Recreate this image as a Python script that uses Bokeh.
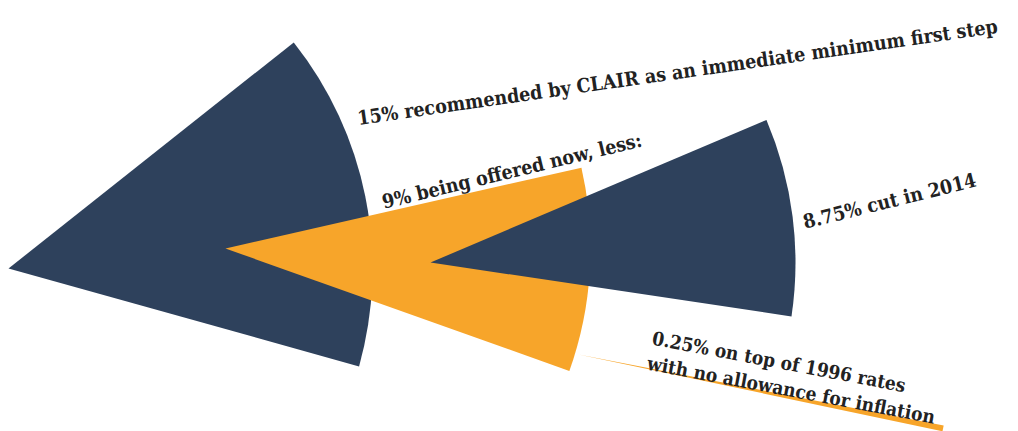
import math
from bokeh.plotting import figure
from bokeh.models import Range1d, Label
from bokeh.embed import file_html
from bokeh.resources import INLINE

# ---- data ----
values = [15, 9, 8.75, 0.25]
labels = [
    "15% recommended by CLAIR as an immediate minimum first step",
    "9% being offered now, less:",
    "8.75% cut in 2014",
    "0.25% on top of 1996 rates\nwith no allowance for inflation",
]
colors = ["#2E415C", "#F7A52A", "#2E415C", "#F7A52A"]

# ---- layout (positions / styles) ----
W, H = 1018, 431
centers = [(8, 268), (225, 248), (430, 262), (578, 354)]  # pixel coords of apex
mid_deg = [11.4, -3.4, 7.25, -11.46]
radii = [364, 365, 365, 372]

p = figure(width=W, height=H, output_backend="svg", toolbar_location=None,
           x_range=Range1d(0, W), y_range=Range1d(0, H),
           x_axis_location=None, y_axis_location=None, min_border=0)
p.grid.visible = False
p.outline_line_color = None
p.background_fill_color = "white"

order = [0, 3, 1, 2]
for i in order:
    span = values[i] / 100.0 * 2 * math.pi
    mid = math.radians(mid_deg[i])
    cx, cy = centers[i]
    p.wedge(x=[cx], y=[H - cy], radius=radii[i],
            start_angle=[mid - span / 2], end_angle=[mid + span / 2],
            fill_color=colors[i], line_color=None)

font = "DejaVu Serif Condensed"
txtc = "#222222"
fs = "19.5px"
label_pos = [(357, 118, 8.2), (382, 202, 13.6), (803, 222, 13.9)]
for i, (x, y, a) in enumerate(label_pos):
    p.add_layout(Label(x=x, y=H - y, text=labels[i], angle=a, angle_units="deg",
                       text_font=font, text_font_style="bold", text_font_size=fs,
                       text_color=txtc, text_align="left", text_baseline="alphabetic"))

lines4 = labels[3].split("\n")
ang4 = -10.7
for j, (x, y) in enumerate([(652, 337), (647, 362)]):
    p.add_layout(Label(x=x, y=H - y, text=lines4[j], angle=ang4, angle_units="deg",
                       text_font=font, text_font_style="bold", text_font_size="19px",
                       text_color=txtc, text_align="left", text_baseline="alphabetic"))

open("out.html", "w").write(file_html(p, INLINE))
